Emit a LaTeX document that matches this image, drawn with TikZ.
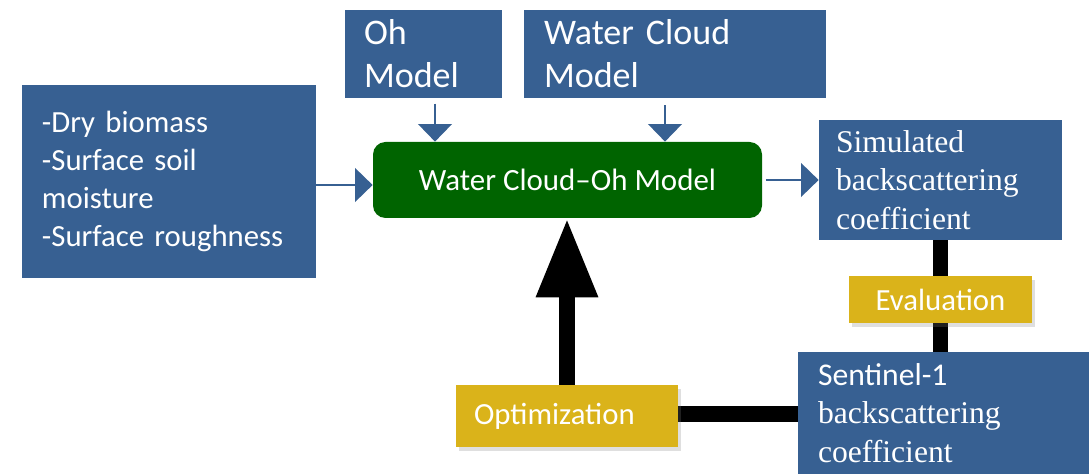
\documentclass[tikz,border=0pt]{standalone}
\usepackage{fontspec}
\setmainfont{Liberation Serif}
\newfontfamily\calib{Carlito}
\usetikzlibrary{arrows.meta,positioning,shadows,backgrounds}
\definecolor{wcblue}{HTML}{376092}
\definecolor{wcgreen}{HTML}{006400}
\definecolor{wcgold}{HTML}{DAB31A}
\tikzset{
  inbox/.style={rectangle, fill=wcblue, text=white, inner sep=0pt, align=left, font=\calib\fontsize{17.5}{21.6}\selectfont},
  modelbox/.style={inbox, minimum height=1.76cm, font=\calib\fontsize{20.5}{24.5}\selectfont},
  outbox/.style={inbox, font=\fontsize{18}{21.8}\selectfont},
  core/.style={rectangle, rounded corners=0.25cm, fill=wcgreen, text=white, align=center, minimum width=7.78cm, minimum height=1.52cm, font=\calib\fontsize{17.6}{20}\selectfont},
  stepbox/.style={rectangle, fill=wcgold, text=white, inner sep=0pt, drop shadow={shadow xshift=1.5pt, shadow yshift=-2pt, opacity=0.25}, font=\calib\fontsize{17.5}{21}\selectfont},
  flow/.style={draw=wcblue, line width=1.7pt, -{Triangle[width=19pt,length=10pt]}},
  link/.style={draw=black, line width=9pt},
  bigflow/.style={link, -{Triangle[width=33pt,length=45pt]}},
}
\begin{document}
\begin{tikzpicture}
  \useasboundingbox (0,0) rectangle (21.78,-9.48);
  % inputs and models
  \node[inbox, minimum width=5.88cm, minimum height=3.86cm, text width=5.08cm] (inputs) at (3.38,-3.63) {-Dry biomass\\-Surface soil\\moisture\\-Surface roughness};
  \node[modelbox, minimum width=3.14cm, text width=2.38cm] (oh) at (8.47,-1.08) {Oh\\Model};
  \node[modelbox, minimum width=6.04cm, text width=5.24cm] (wcm) at (13.5,-1.08) {Water Cloud\\Model};
  % coupled model
  \node[core] (wcoh) at (11.35,-3.6) {Water Cloud–Oh Model};
  % outputs
  \node[outbox, minimum width=4.86cm, minimum height=2.4cm, text width=4.18cm] (sim) at (18.81,-3.6) {Simulated\\backscattering\\coefficient};
  \node[outbox, minimum width=5.82cm, minimum height=2.44cm, text width=5.02cm] (s1) at (18.87,-8.26) {{\calib Sentinel-1}\\backscattering\\coefficient};
  \node[stepbox, minimum width=4.44cm, minimum height=1.24cm, text width=3.72cm, align=left] (optim) at (11.34,-8.32) {Optimization};
  % blue arrows
  \draw[flow] ([yshift=-0.1cm]inputs.east |- wcoh.west) -- ([yshift=-0.1cm]wcoh.west);
  \draw[flow, shorten <=3pt] ([xshift=0.23cm]oh.south) -- ([xshift=0.23cm]oh.south |- wcoh.north);
  \draw[flow, shorten <=4pt] ([xshift=-0.2cm]wcm.south) -- ([xshift=-0.2cm]wcm.south |- wcoh.north);
  \draw[flow, shorten <=2pt] (wcoh.east) -- (wcoh.east -| sim.west);
  % loop
  \begin{scope}[on background layer]
    \draw[link] (sim.south) -- (sim.south |- s1.north);
    \draw[link] ([yshift=0.04cm]optim.east) -- ([yshift=0.04cm]optim.east -| s1.west);
  \end{scope}
  \draw[bigflow] (optim.north) -- (optim.north |- wcoh.south);
  \node[stepbox, minimum width=3.66cm, minimum height=0.94cm, align=center] (eval) at (18.81,-5.99) {Evaluation};
\end{tikzpicture}
\end{document}
